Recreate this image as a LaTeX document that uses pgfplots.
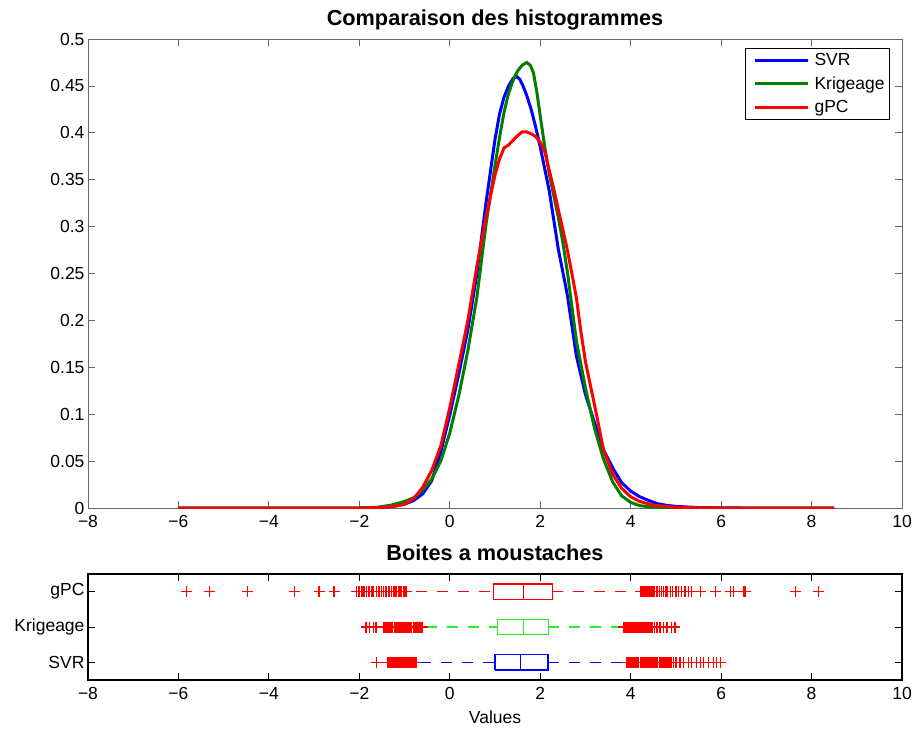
\documentclass[border=0pt]{standalone}
\usepackage{fontspec}
\setmainfont{Liberation Sans}
\usepackage{pgfplots}
\pgfplotsset{compat=1.18}
\usepackage{pgfplotstable}

\definecolor{mblue}{rgb}{0,0,1}
\definecolor{mgreen}{rgb}{0,0.5,0}
\definecolor{mred}{rgb}{1,0,0}
\definecolor{lgreen}{rgb}{0.15,0.95,0.15}

\pgfplotstableread{
x y
-6 0
-2 0
-1.6 0.0005
-1.3 0.0015
-1.0 0.004
-0.8 0.008
-0.6 0.015
-0.4 0.029
-0.2 0.06
0.0 0.099
0.2 0.143
0.4 0.19
0.6 0.25
0.8 0.325
1.0 0.393
1.1 0.42
1.2 0.438
1.3 0.45
1.4 0.458
1.48 0.46
1.55 0.457
1.62 0.45
1.7 0.44
1.8 0.425
1.9 0.406
2.0 0.385
2.2 0.338
2.4 0.276
2.6 0.227
2.8 0.162
3.0 0.121
3.2 0.091
3.4 0.062
3.6 0.043
3.8 0.027
4.0 0.018
4.2 0.012
4.4 0.008
4.6 0.0045
4.8 0.0028
5.0 0.0017
5.5 0.0005
6.0 0.0001
6.5 0
8.5 0
}\svrdata

\pgfplotstableread{
x y
-6 0
-2 0
-1.6 0.0008
-1.3 0.003
-1.0 0.007
-0.8 0.011
-0.6 0.019
-0.4 0.031
-0.2 0.05
0.0 0.08
0.2 0.12
0.4 0.168
0.6 0.225
0.8 0.302
1.0 0.365
1.1 0.395
1.2 0.422
1.3 0.442
1.4 0.456
1.5 0.466
1.6 0.472
1.7 0.475
1.78 0.472
1.85 0.464
1.92 0.445
2.0 0.418
2.1 0.385
2.2 0.356
2.3 0.333
2.4 0.31
2.5 0.283
2.6 0.252
2.7 0.215
2.8 0.178
3.0 0.128
3.2 0.085
3.4 0.052
3.6 0.028
3.8 0.013
4.0 0.006
4.2 0.0025
4.5 0.0008
5.0 0.0001
5.5 0
8.5 0
}\krigdata

\pgfplotstableread{
x y
-6 0
-2 0
-1.5 0.0005
-1.2 0.002
-1.0 0.004
-0.8 0.01
-0.6 0.022
-0.4 0.04
-0.2 0.066
0.0 0.107
0.2 0.153
0.4 0.2
0.6 0.258
0.8 0.31
1.0 0.355
1.1 0.372
1.2 0.384
1.3 0.387
1.4 0.392
1.5 0.397
1.6 0.401
1.7 0.401
1.8 0.399
1.9 0.396
2.0 0.39
2.1 0.38
2.2 0.36
2.3 0.34
2.4 0.318
2.5 0.297
2.6 0.275
2.7 0.25
2.8 0.224
2.9 0.188
3.0 0.156
3.2 0.11
3.4 0.062
3.6 0.036
3.8 0.021
4.0 0.012
4.2 0.007
4.5 0.003
5.0 0.0008
5.5 0.0002
6.0 0
8.5 0
}\gpcdata

\pgfplotsset{
  every axis title/.style={at={(0.5,1)}, anchor=base, yshift=13.5pt,
    font=\bfseries\fontsize{21.7}{24}\selectfont},
  mystyle/.style={
    scale only axis,
    xmin=-8, xmax=10,
    xtick={-8,-6,-4,-2,0,2,4,6,8,10},
    xticklabels={−8,−6,−4,−2,0,2,4,6,8,10},
    tick align=inside,
    xtick pos=both, ytick pos=both,
    major tick length=7pt,
    ticklabel style={font=\fontsize{17.5}{19}\selectfont},
    xticklabel style={yshift=-4pt},
    label style={font=\fontsize{17.5}{19}\selectfont},
  },
}

\begin{document}
\begin{tikzpicture}
\useasboundingbox (0,0) rectangle (913pt,-729pt);

\begin{axis}[mystyle,
  width=814pt, height=469pt,
  at={(88pt,-508pt)}, anchor=south west,
  ymin=0, ymax=0.5,
  ytick={0,0.05,0.1,0.15,0.2,0.25,0.3,0.35,0.4,0.45,0.5},
  yticklabels={0,0.05,0.1,0.15,0.2,0.25,0.3,0.35,0.4,0.45,0.5},
  axis line style={black!60, line width=0.8pt},
  tick style={black!60, line width=0.8pt},
  title={Comparaison des histogrammes},
  legend cell align=left,
  legend image code/.code={\path[draw=none,fill=none] (0pt,-2pt) rectangle (64pt,2pt);\draw[#1] (6pt,0pt) -- (59pt,0pt);},
  legend style={at={(1,1)}, anchor=north east, xshift=-12pt, yshift=-9pt,
    font=\fontsize{17.5}{19}\selectfont, draw=black, line width=0.8pt,
    inner xsep=3pt, inner ysep=3pt, row sep=5.5pt},
]
\addplot[mblue, line width=3pt] table {\svrdata};
\addlegendentry{SVR}
\addplot[mgreen, line width=3pt] table {\krigdata};
\addlegendentry{Krigeage}
\addplot[mred, line width=3pt] table {\gpcdata};
\addlegendentry{gPC}
\end{axis}

\begin{axis}[mystyle,
  width=814pt, height=106pt,
  at={(88pt,-680pt)}, anchor=south west,
  ymin=0.5, ymax=3.5,
  ytick={1,2,3},
  yticklabels={SVR,Krigeage,gPC},
  axis line style={black, line width=1.1pt},
  tick style={black, line width=0.9pt},
  title={Boites a moustaches},
  xlabel={Values},
  xlabel style={yshift=-4pt},
]
% gPC (row 3)
\addplot[color=red, line width=1.3pt] coordinates {(0.96,2.78) (2.27,2.78) (2.27,3.22) (0.96,3.22) (0.96,2.78)};
\addplot[color=red, line width=1.3pt] coordinates {(1.63,2.78) (1.63,3.22)};
\addplot[color=red, line width=1.3pt, dash pattern=on 11pt off 10pt] coordinates {(-0.75,3) (0.96,3)};
\addplot[color=red, line width=1.3pt, dash pattern=on 11pt off 10pt] coordinates {(2.27,3) (4.10,3)};
% Krigeage (row 2)
\addplot[color=lgreen, line width=1.3pt] coordinates {(1.06,1.78) (2.18,1.78) (2.18,2.22) (1.06,2.22) (1.06,1.78)};
\addplot[color=lgreen, line width=1.3pt] coordinates {(1.63,1.78) (1.63,2.22)};
\addplot[color=lgreen, line width=1.3pt, dash pattern=on 11pt off 10pt] coordinates {(-0.52,2) (1.06,2)};
\addplot[color=lgreen, line width=1.3pt, dash pattern=on 11pt off 10pt] coordinates {(2.18,2) (3.78,2)};
% SVR (row 1)
\addplot[color=mblue, line width=1.3pt] coordinates {(1.00,0.78) (2.17,0.78) (2.17,1.22) (1.00,1.22) (1.00,0.78)};
\addplot[color=mblue, line width=1.3pt] coordinates {(1.57,0.78) (1.57,1.22)};
\addplot[color=mblue, line width=1.3pt, dash pattern=on 11pt off 10pt] coordinates {(-0.66,1) (1.00,1)};
\addplot[color=mblue, line width=1.3pt, dash pattern=on 11pt off 10pt] coordinates {(2.17,1) (3.86,1)};
% outliers
\addplot[only marks, mark=+, mark size=5.5pt, color=red, mark options={line width=1.3pt}] coordinates {
(-5.82,3) (-5.32,3) (-4.47,3) (-3.44,3) (-2.89,3) (-2.56,3) (-2.06,3) (-2.02,3) (-1.99,3) (-1.95,3)
(-1.92,3) (-1.88,3) (-1.84,3) (-1.80,3) (-1.77,3) (-1.72,3) (-1.68,3) (-1.62,3) (-1.58,3) (-1.55,3)
(-1.51,3) (-1.46,3) (-1.41,3) (-1.36,3) (-1.33,3) (-1.29,3) (-1.25,3) (-1.21,3) (-1.18,3) (-1.14,3)
(-1.12,3) (-1.10,3) (-1.08,3) (-1.06,3) (-1.03,3) (-1.01,3) (-0.99,3) (-0.97,3) (-0.95,3)
(4.21,3) (4.23,3) (4.25,3) (4.27,3) (4.29,3) (4.31,3) (4.34,3) (4.36,3) (4.39,3) (4.41,3)
(4.44,3) (4.47,3) (4.50,3) (4.53,3) (4.57,3) (4.60,3) (4.64,3) (4.68,3) (4.73,3) (4.78,3)
(4.82,3) (4.88,3) (4.93,3) (5.00,3) (5.06,3) (5.12,3) (5.20,3) (5.28,3) (5.35,3) (5.55,3)
(5.87,3) (6.20,3) (6.27,3) (6.49,3) (6.53,3) (7.64,3) (8.15,3)
(-1.85,2) (-1.77,2) (-1.69,2) (-1.63,2) (-1.47,2) (-1.44,2) (-1.41,2) (-1.38,2) (-1.35,2) (-1.32,2)
(-1.29,2) (-1.26,2) (-1.23,2) (-1.20,2) (-1.17,2) (-1.14,2) (-1.11,2) (-1.08,2) (-1.05,2) (-1.02,2)
(-0.99,2) (-0.96,2) (-0.93,2) (-0.90,2) (-0.87,2) (-0.84,2) (-0.81,2) (-0.78,2) (-0.75,2) (-0.72,2)
(-0.69,2) (-0.66,2) (-0.63,2) (-0.60,2)
(-1.455,2) (-1.395,2) (-1.335,2) (-1.275,2) (-1.215,2) (-1.155,2) (-1.095,2) (-1.035,2) (-0.975,2)
(-0.915,2) (-0.855,2) (-0.795,2) (-0.735,2) (-0.675,2) (-0.615,2)
(3.84,2) (3.87,2) (3.90,2) (3.93,2) (3.96,2) (3.99,2) (4.02,2) (4.05,2) (4.08,2) (4.11,2)
(4.14,2) (4.17,2) (4.20,2) (4.23,2) (4.26,2) (4.29,2) (4.32,2) (4.35,2) (4.38,2) (4.41,2)
(4.44,2) (4.47,2) (4.52,2) (4.58,2) (4.65,2) (4.72,2) (4.80,2) (4.91,2) (4.98,2)
(3.855,2) (3.915,2) (3.975,2) (4.035,2) (4.095,2) (4.155,2) (4.215,2) (4.275,2) (4.335,2) (4.395,2)
(-1.62,1) (-1.38,1) (-1.35,1) (-1.32,1) (-1.29,1) (-1.26,1) (-1.23,1) (-1.20,1) (-1.17,1) (-1.14,1)
(-1.11,1) (-1.08,1) (-1.05,1) (-1.02,1) (-0.99,1) (-0.96,1) (-0.93,1) (-0.90,1) (-0.87,1) (-0.84,1)
(-0.81,1) (-0.78,1) (-0.75,1)
(-1.365,1) (-1.305,1) (-1.245,1) (-1.185,1) (-1.125,1) (-1.065,1) (-1.005,1) (-0.945,1) (-0.885,1)
(-0.825,1) (-0.765,1)
(3.91,1) (3.94,1) (3.97,1) (4.00,1) (4.03,1) (4.06,1) (4.09,1) (4.12,1) (4.15,1) (4.18,1)
(4.21,1) (4.24,1) (4.27,1) (4.30,1) (4.33,1) (4.36,1) (4.39,1) (4.42,1) (4.45,1) (4.48,1)
(4.51,1) (4.54,1) (4.57,1) (4.60,1) (4.63,1) (4.66,1) (4.69,1) (4.72,1) (4.75,1) (4.78,1)
(4.81,1) (4.84,1) (4.87,1) (4.91,1) (4.94,1) (5.00,1) (5.09,1) (5.17,1) (5.28,1) (5.35,1)
(5.46,1) (5.54,1) (5.61,1) (5.72,1) (5.83,1) (5.90,1) (5.98,1)
(3.925,1) (3.985,1) (4.045,1) (4.105,1) (4.165,1) (4.225,1) (4.285,1) (4.345,1) (4.405,1) (4.465,1)
(4.525,1) (4.585,1)
};
\end{axis}
\end{tikzpicture}
\end{document}
